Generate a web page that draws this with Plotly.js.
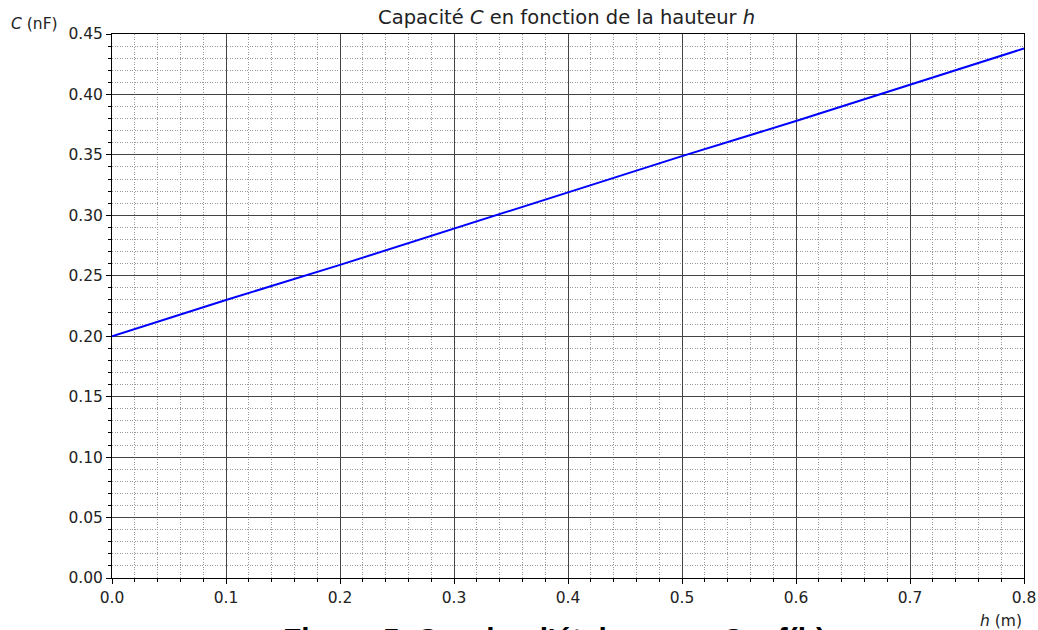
<!DOCTYPE html>
<html>
<head>
<meta charset="utf-8">
<script src="https://cdn.plot.ly/plotly-3.0.1.min.js"></script>
<style>html,body{margin:0;padding:0;background:#fff;}</style>
</head>
<body>
<div id="chart" style="width:1038px;height:630px;"></div>
<script>
const hValues = [0.0, 0.1, 0.2, 0.3, 0.4, 0.5, 0.6, 0.7, 0.8];
const cValues = [0.200, 0.230, 0.259, 0.289, 0.319, 0.349, 0.378, 0.408, 0.438];
const xTicks = [0.0, 0.1, 0.2, 0.3, 0.4, 0.5, 0.6, 0.7, 0.8];
const yTicks = [0.00, 0.05, 0.10, 0.15, 0.20, 0.25, 0.30, 0.35, 0.40, 0.45];

const font = 'DejaVu Sans, sans-serif';

const trace = {
  x: hValues, y: cValues, type: 'scatter', mode: 'lines',
  line: {color: '#0000ff', width: 2}, hoverinfo: 'skip'
};

const axisCommon = {
  showline: true, linecolor: '#000', linewidth: 1, mirror: true,
  ticks: 'outside', ticklen: 5, tickwidth: 1, tickcolor: '#000',
  showgrid: true, gridcolor: '#444', gridwidth: 1,
  zeroline: false,
  tickfont: {family: font, size: 15.5, color: '#222'}
};

const layout = {
  width: 1038, height: 630,
  margin: {l: 112, r: 14, t: 34, b: 52},
  paper_bgcolor: '#fff', plot_bgcolor: '#fff',
  showlegend: false,
  title: {
    text: 'Capacité <i>C</i> en fonction de la hauteur <i>h</i>',
    font: {family: font, size: 19.5, color: '#222'},
    x: 0.4985, xref: 'paper', y: 0.973, yanchor: 'middle'
  },
  xaxis: Object.assign({}, axisCommon, {
    range: [0, 0.8], tickvals: xTicks, tickformat: '.1f',
    minor: {dtick: 0.02, showgrid: true, gridcolor: '#999', griddash: '1px,1.5px', gridwidth: 1,
            ticks: 'outside', ticklen: 3, tickcolor: '#000'}
  }),
  yaxis: Object.assign({}, axisCommon, {
    range: [0, 0.45], tickvals: yTicks, tickformat: '.2f',
    minor: {dtick: 0.01, showgrid: true, gridcolor: '#999', griddash: '1px,1.5px', gridwidth: 1,
            ticks: 'outside', ticklen: 3, tickcolor: '#000'}
  }),
  annotations: [
    {text: '<i>C</i> (nF)', xref: 'paper', yref: 'paper', x: -0.113, y: 1.0184,
     xanchor: 'left', yanchor: 'middle', showarrow: false,
     font: {family: font, size: 15.5, color: '#222'}},
    {text: '<i>h</i> (m)', xref: 'paper', yref: 'paper', x: 1.0, y: -0.058,
     xanchor: 'right', yanchor: 'top', showarrow: false,
     font: {family: font, size: 15.5, color: '#222'}},
    {text: '<b>Figure 5. Courbe d\'étalonnage C = f(h)</b>', xref: 'paper', yref: 'paper',
     x: 0.485, y: -0.077, xanchor: 'center', yanchor: 'top', showarrow: false,
     font: {family: 'Liberation Sans, Arial, sans-serif', size: 30, color: '#000'}}
  ]
};

Plotly.newPlot('chart', [trace], layout, {displayModeBar: false, staticPlot: true});
</script>
</body>
</html>
